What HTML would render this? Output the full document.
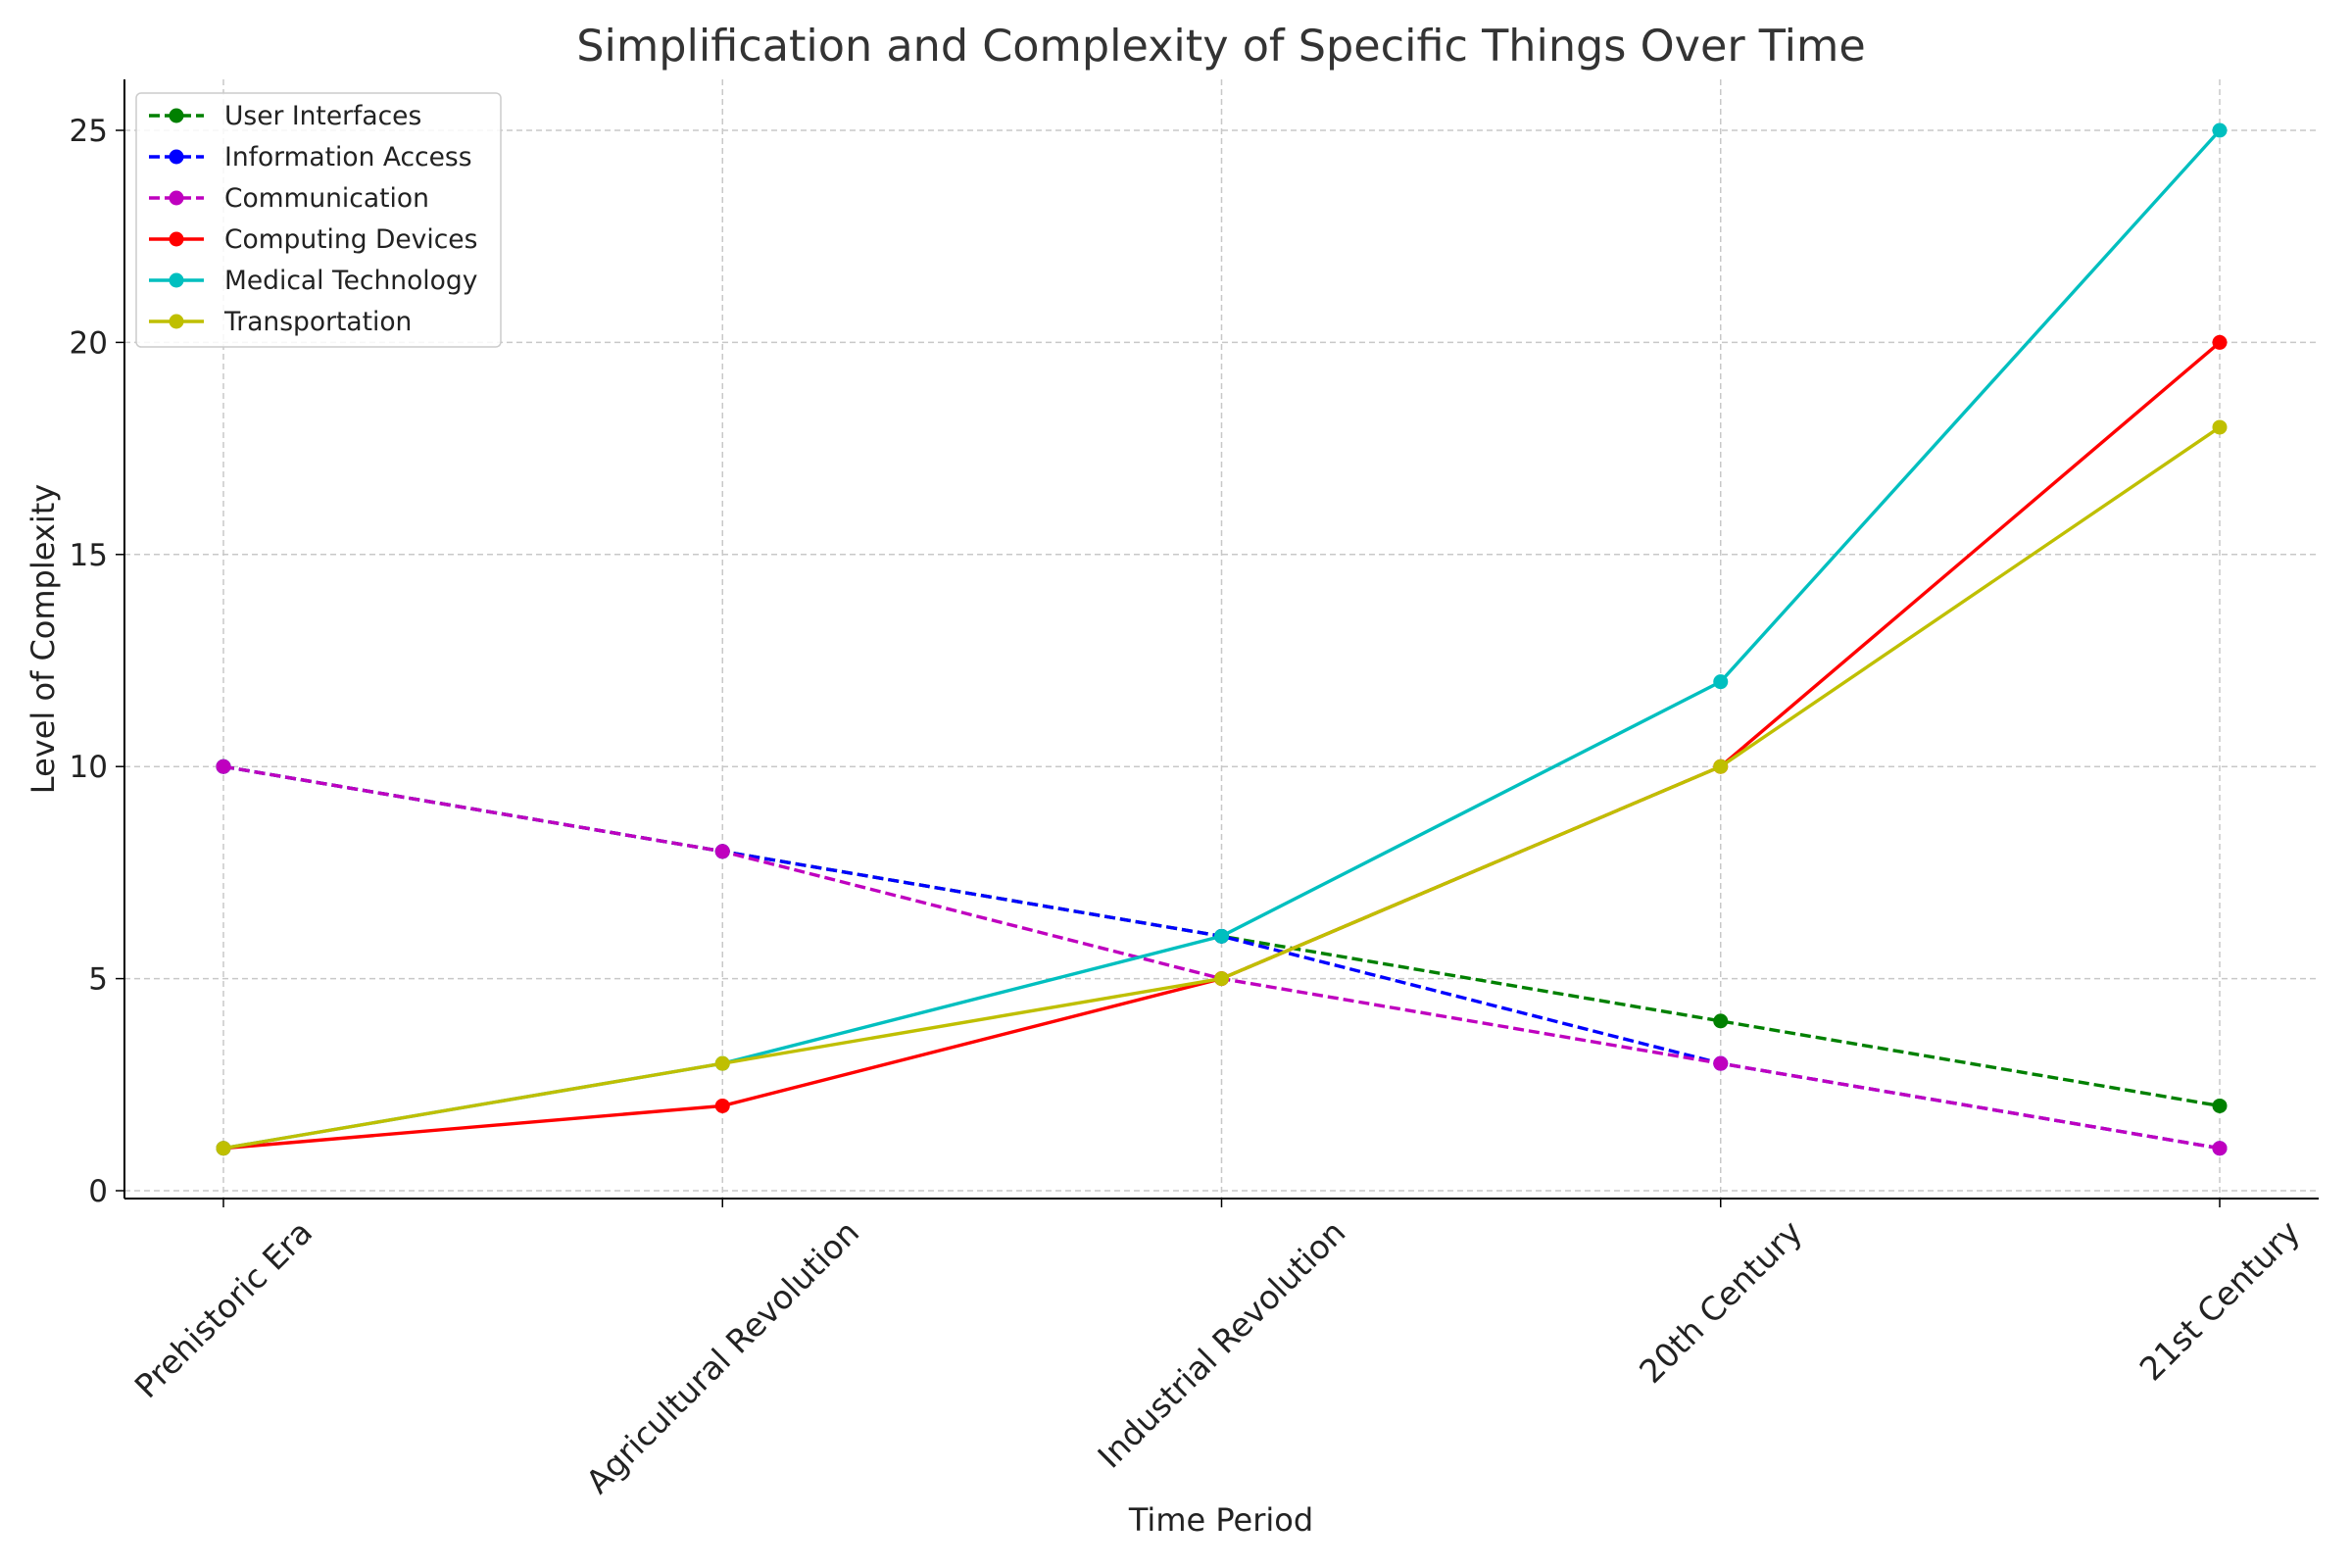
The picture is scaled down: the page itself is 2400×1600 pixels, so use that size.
<!DOCTYPE html>
<html><head><meta charset="utf-8"><style>
body{margin:0;background:#fff;}
svg{display:block;font-family:"DejaVu Sans","Liberation Sans",sans-serif;}
</style></head><body>
<svg id="chart" width="2400" height="1600" viewBox="0 0 2400 1600">
<text x="1246" y="62" text-anchor="middle" font-size="44.5" fill="#333">Simplification and Complexity of Specific Things Over Time</text>
<g id="grid"></g>
<g id="series"></g>
<line x1="127" y1="81" x2="127" y2="1223" stroke="#000" stroke-width="2"/>
<line x1="127" y1="1223" x2="2366" y2="1223" stroke="#000" stroke-width="2"/>
<g id="ticks"></g>
<text x="1246" y="1562" text-anchor="middle" font-size="32" fill="#222">Time Period</text>
<text transform="translate(55,652) rotate(-90)" text-anchor="middle" font-size="32" fill="#222">Level of Complexity</text>
<g id="legend"></g>
</svg>
<script>
const categories=["Prehistoric Era","Agricultural Revolution","Industrial Revolution","20th Century","21st Century"];
const yTicks=[0,5,10,15,20,25];
const seriesNames=["User Interfaces","Information Access","Communication","Computing Devices","Medical Technology","Transportation"];
const userInterfaces=[10,8,6,4,2];
const informationAccess=[10,8,6,3,1];
const communication=[10,8,5,3,1];
const computingDevices=[1,2,5,10,20];
const medicalTechnology=[1,3,6,12,25];
const transportation=[1,3,5,10,18];
const seriesValues=[userInterfaces,informationAccess,communication,computingDevices,medicalTechnology,transportation];
const colors=["#008000","#0000ff","#bf00bf","#ff0000","#00bfbf","#bfbf00"];
const dashed=[true,true,true,false,false,false];
const NS="http://www.w3.org/2000/svg";
const X0=228,X1=2265,Y0=1215,YU=43.28;
function xs(i){return X0+i*(X1-X0)/(categories.length-1);}
function ys(v){return Y0-v*YU;}
function mk(tag,attrs,parent){const e=document.createElementNS(NS,tag);for(const k in attrs)e.setAttribute(k,attrs[k]);parent.appendChild(e);return e;}
const grid=document.getElementById('grid'),ticks=document.getElementById('ticks'),ser=document.getElementById('series'),leg=document.getElementById('legend');
categories.forEach((c,i)=>{
 const g=mk('line',{x1:xs(i),x2:xs(i),y1:81,y2:1223,stroke:'#c8c8c8','stroke-width':1.5,'stroke-dasharray':'6,4'},grid);
 
 
 const t=mk('line',{x1:xs(i),x2:xs(i),y1:1223,y2:1232,stroke:'#000','stroke-width':1.5},ticks);
 
 
 const l=mk('text',{x:0,y:0,'text-anchor':'middle','dominant-baseline':'central','font-size':33,fill:'#222'},ticks);
 l.textContent=c;
 
 
 const w=l.getComputedTextLength(), h=33*1.15;
 const cy=1238+(w+h)*0.7071/2;
 l.setAttribute('transform',`translate(${xs(i)},${cy}) rotate(-45)`);
});
yTicks.forEach(v=>{
 const g=mk('line',{x1:127,x2:2366,y1:ys(v),y2:ys(v),stroke:'#c8c8c8','stroke-width':1.5,'stroke-dasharray':'6,4'},grid);
 
 
 const t=mk('line',{x1:118,x2:127,y1:ys(v),y2:ys(v),stroke:'#000','stroke-width':1.5},ticks);
 
 
 const l=mk('text',{x:110,y:ys(v)+11,'text-anchor':'end','font-size':31,fill:'#222'},ticks);
 l.textContent=v;
 
 
});
seriesValues.forEach((vals,s)=>{
 const g=mk('g',{},ser);
 
 
 const p=mk('polyline',{points:vals.map((v,i)=>xs(i)+','+ys(v)).join(' '),fill:'none',stroke:colors[s],'stroke-width':3.4,'stroke-dasharray':dashed[s]?'11,5':'none'},g);
 
 
 vals.forEach((v,i)=>{
  const c=mk('circle',{cx:xs(i),cy:ys(v),r:7.5,fill:colors[s]},g);
  
  
 });
});
const lb=mk('rect',{x:139,y:95,width:372,height:259,rx:5,fill:'#fff','fill-opacity':0.85,stroke:'#ccc','stroke-width':1.5},leg);


seriesNames.forEach((n,s)=>{
 const y=118+s*42;
 const g=mk('g',{},leg);
 
 
 mk('line',{x1:152,x2:208,y1:y,y2:y,stroke:colors[s],'stroke-width':3.4,'stroke-dasharray':dashed[s]?'11,5':'none'},g);
 mk('circle',{cx:180,cy:y,r:7.5,fill:colors[s]},g);
 const t=mk('text',{x:229,y:y+9,'font-size':26.5,fill:'#222'},g);
 t.textContent=n;
});
</script>
</body></html>
